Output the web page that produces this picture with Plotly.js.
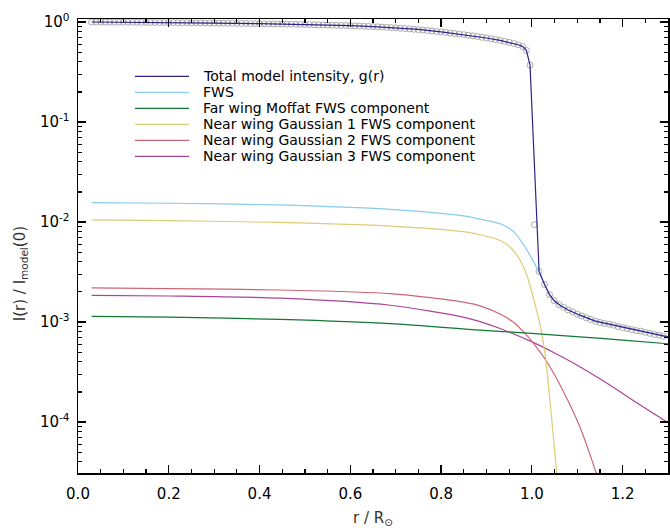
<!DOCTYPE html>
<html>
<head>
<meta charset="utf-8">
<script src="https://cdn.plot.ly/plotly-3.0.1.min.js"></script>
<style>html,body{margin:0;padding:0;background:#fff;}#plot{width:670px;height:528px;}</style>
</head>
<body>
<div id="plot"></div>
<script>
// ---- data ----
const obsR = [0.03,0.04,0.05,0.06,0.07,0.08,0.09,0.10,
  0.11,0.12,0.13,0.14,0.15,0.16,0.17,0.18,0.19,0.20,
  0.21,0.22,0.23,0.24,0.25,0.26,0.27,0.28,0.29,0.30,
  0.31,0.32,0.33,0.34,0.35,0.36,0.37,0.38,0.39,0.40,
  0.41,0.42,0.43,0.44,0.45,0.46,0.47,0.48,0.49,0.50,
  0.51,0.52,0.53,0.54,0.55,0.56,0.57,0.58,0.59,0.60,
  0.61,0.62,0.63,0.64,0.65,0.66,0.67,0.68,0.69,0.70,
  0.71,0.72,0.73,0.74,0.75,0.76,0.77,0.78,0.79,0.80,
  0.81,0.82,0.83,0.84,0.85,0.86,0.87,0.88,0.89,0.90,
  0.91,0.92,0.93,0.94,0.95,0.96,0.97,0.98,
  0.988,0.996,1.006,1.016,1.028,1.039,1.049,
  1.06,1.07,1.08,1.09,1.10,1.11,1.12,1.13,1.14,1.15,1.16,1.17,
  1.18,1.19,1.20,1.21,1.22,1.23,1.24,1.25,1.26,1.27,1.28,1.29];
const obsV = [1.000,0.999,0.999,0.998,0.998,0.997,0.997,0.996,
  0.995,0.995,0.994,0.993,0.992,0.991,0.990,0.989,0.988,0.987,
  0.986,0.985,0.984,0.983,0.982,0.981,0.980,0.979,0.977,0.976,
  0.975,0.974,0.972,0.971,0.970,0.968,0.967,0.965,0.964,0.962,
  0.961,0.959,0.957,0.956,0.954,0.952,0.950,0.948,0.946,0.944,
  0.942,0.939,0.937,0.934,0.932,0.929,0.927,0.924,0.921,0.918,
  0.914,0.911,0.907,0.903,0.899,0.895,0.890,0.885,0.880,0.875,
  0.866,0.860,0.853,0.846,0.839,0.831,0.823,0.814,0.805,0.796,
  0.786,0.776,0.767,0.757,0.747,0.737,0.727,0.716,0.704,0.692,
  0.680,0.667,0.654,0.640,0.626,0.610,0.592,0.568,
  0.52,0.37,0.0094,0.0032,0.00237,0.00188,0.00164,
  0.00149,0.00140,0.00132,0.00126,0.00120,0.00115,0.00110,0.00106,0.00102,0.00099,0.00097,0.00095,
  0.00093,0.00090,0.00088,0.00086,0.00084,0.00082,0.00081,0.00079,0.00077,0.00075,0.00074,0.00072];

const modR = [0.03,0.1,0.2,0.3,0.4,0.5,0.6,0.65,0.7,0.75,0.8,0.85,0.9,0.93,0.95,0.97,0.98,0.988,0.996,1.016,1.028,1.039,1.05,1.062,1.08,1.106,1.14,1.18,1.24,1.3];
const modV = [1.0,0.996,0.987,0.976,0.962,0.944,0.918,0.897,0.875,0.843,0.796,0.747,0.692,0.654,0.626,0.592,0.568,0.52,0.37,0.0032,0.00237,0.00188,0.00162,0.00147,0.00132,0.00117,0.00102,0.00093,0.00081,0.00071];

const fwsR = [0.03,0.2,0.445,0.6,0.688,0.8,0.849,0.886,0.93,0.959,0.981,1.0,1.015,1.03,1.04,1.062,1.08,1.106,1.14,1.18,1.24,1.3];
const fwsV = [0.0156,0.0154,0.0148,0.0140,0.0134,0.0122,0.0115,0.0107,0.0096,0.0081,0.0060,0.0043,0.0032,0.00228,0.00181,0.00147,0.00132,0.00117,0.00102,0.00093,0.00081,0.00071];

const mofR = [0.03,0.2,0.445,0.688,0.886,1.0,1.106,1.2,1.3];
const mofV = [0.00114,0.00112,0.00106,0.000964,0.00083,0.00077,0.00071,0.00066,0.000606];

const g1R = [0.03,0.2,0.445,0.688,0.849,0.886,0.93,0.952,0.974,0.989,1.003,1.02,1.03,1.037,1.044,1.055,1.062];
const g1V = [0.0105,0.0103,0.0099,0.0091,0.0080,0.00746,0.00654,0.00562,0.00415,0.00294,0.00176,0.00085,0.00045,0.00022,0.000104,0.00003,0.000013];

const g2R = [0.03,0.2,0.445,0.688,0.849,0.886,0.93,0.959,0.978,1.003,1.033,1.07,1.106,1.143,1.16];
const g2V = [0.00219,0.00216,0.00209,0.00192,0.00158,0.00145,0.0012,0.001,0.00083,0.00062,0.0004,0.0002,0.000089,0.00003,0.000018];

const g3R = [0.03,0.2,0.445,0.688,0.849,0.886,0.93,1.003,1.05,1.1,1.15,1.2,1.25,1.3];
const g3V = [0.00185,0.00182,0.00173,0.00147,0.00112,0.00101,0.00086,0.000625,0.00049,0.00037,0.00027,0.000193,0.000137,0.0000985];

const names = ['Total model intensity, g(r)','FWS','Far wing Moffat FWS component',
  'Near wing Gaussian 1 FWS component','Near wing Gaussian 2 FWS component','Near wing Gaussian 3 FWS component'];
const colors = ['#332288','#88CCEE','#117733','#DDCC77','#CC6677','#AA4499'];
const yTickVals = [1,0.1,0.01,0.001,0.0001];
const yTickText = ['10<sup>0</sup>','10<sup>-1</sup>','10<sup>-2</sup>','10<sup>-3</sup>','10<sup>-4</sup>'];

// ---- layout geometry (pixels) ----
const W = 670, H = 528, ML = 78, MR = 2, MT = 18.5, MB = 55;
const PW = W - ML - MR, PH = H - MT - MB;
const px2x = p => (p - ML) / PW;           // pixel -> paper x
const py2y = p => (H - MB - p) / PH;       // pixel -> paper y

// minor tick positions (2..9 per decade)
const minorY = [];
for (let e = -5; e <= 0; e++) for (let m = 2; m <= 9; m++) minorY.push(m * Math.pow(10, e));

const lw = 1.2;
const sp = {shape: 'spline', smoothing: 0.8, width: lw};
const traces = [
  {x: obsR, y: obsV, mode: 'markers', type: 'scatter', showlegend: false,
   marker: {symbol: 'circle-open', size: 6, color: '#aaaaaa', line: {width: 1, color: '#aaaaaa'}}},
  {x: g3R, y: g3V, mode: 'lines', name: names[5], showlegend: false, line: Object.assign({color: colors[5]}, sp)},
  {x: g2R, y: g2V, mode: 'lines', name: names[4], showlegend: false, line: Object.assign({color: colors[4]}, sp)},
  {x: g1R, y: g1V, mode: 'lines', name: names[3], showlegend: false, line: Object.assign({color: colors[3]}, sp)},
  {x: mofR, y: mofV, mode: 'lines', name: names[2], showlegend: false, line: Object.assign({color: colors[2]}, sp)},
  {x: fwsR, y: fwsV, mode: 'lines', name: names[1], showlegend: false, line: Object.assign({color: colors[1]}, sp)},
  {x: modR, y: modV, mode: 'lines', name: names[0], showlegend: false, line: {color: colors[0], width: lw}}
];

// legend drawn as shapes + annotations (reference spacing is 16px)
const shapes = [], annotations = [];
names.forEach((n, i) => {
  const py = 76 + 16 * i;
  shapes.push({type: 'line', xref: 'paper', yref: 'paper', x0: px2x(135), x1: px2x(189), y0: py2y(py), y1: py2y(py),
    line: {color: colors[i], width: 1.3}});
  annotations.push({xref: 'paper', yref: 'paper', x: px2x(201), y: py2y(py), xanchor: 'left', yanchor: 'middle',
    text: n, showarrow: false, font: {family: 'DejaVu Sans', size: 14, color: '#000'}});
});
annotations.push({xref: 'paper', yref: 'paper', x: px2x(20), y: py2y(274), xanchor: 'center', yanchor: 'middle',
  textangle: -90, showarrow: false, text: 'I(r) / I<sub>model</sub>(0)',
  font: {family: 'DejaVu Sans', size: 15, color: '#333'}});

const axisCommon = {
  showline: true, linecolor: '#000', linewidth: 1.5, mirror: 'ticks',
  ticks: 'inside', ticklen: 8, tickwidth: 1.3, tickcolor: '#000',
  showgrid: false, zeroline: false,
  tickfont: {family: 'DejaVu Sans', size: 15, color: '#000'}
};

const layout = {
  width: W, height: H,
  margin: {l: ML, r: MR, t: MT, b: MB},
  paper_bgcolor: '#fff', plot_bgcolor: '#fff',
  font: {family: 'DejaVu Sans', color: '#000'},
  showlegend: false,
  xaxis: Object.assign({}, axisCommon, {
    range: [0, 1.3], tickmode: 'linear', tick0: 0, dtick: 0.2, tickformat: '.1f',
    minor: {dtick: 0.05, ticks: 'inside', ticklen: 4, tickwidth: 1.2, tickcolor: '#000', showgrid: false},
    ticklabelstandoff: 6,
    title: {text: 'r / R<sub>⊙</sub>', font: {family: 'DejaVu Sans', size: 15, color: '#333'}, standoff: 13}
  }),
  yaxis: Object.assign({}, axisCommon, {
    type: 'log', range: [-4.51, 0.03],
    tickmode: 'array', tickvals: yTickVals, ticktext: yTickText,
    minor: {tickmode: 'array', tickvals: minorY, ticks: 'inside', ticklen: 4, tickwidth: 1.2, tickcolor: '#000', showgrid: false},
    ticklabelstandoff: 4
  }),
  shapes: shapes,
  annotations: annotations
};

Plotly.newPlot('plot', traces, layout, {staticPlot: true, displayModeBar: false});
</script>
</body>
</html>
